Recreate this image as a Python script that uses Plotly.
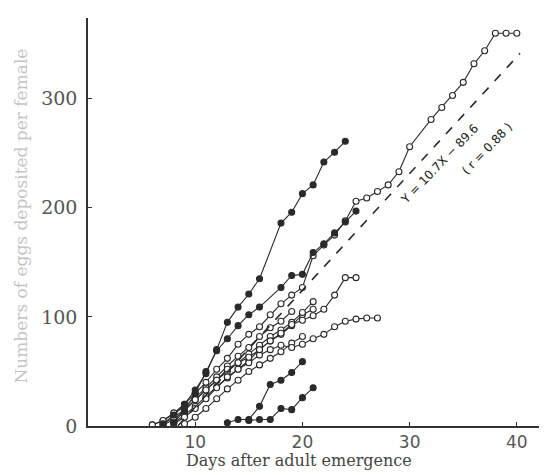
import plotly.graph_objects as go

# ---- data ----
f1_days = [7, 8, 9, 10, 11, 12, 13, 14, 15, 16, 18, 19, 20, 21, 22, 23, 24]
f1_eggs = [2, 10, 20, 33, 48, 70, 95, 109, 121, 135, 186, 196, 213, 221, 242, 251, 261]

f2_days = [8, 9, 10, 11, 12, 13, 14, 15, 16, 18, 19, 20, 21, 22, 23, 24, 25]
f2_eggs = [3, 14, 30, 50, 69, 80, 92, 102, 109, 127, 138, 139, 159, 167, 177, 187, 197]

f3_days = [13, 14, 15, 16, 17, 18, 19, 20]
f3_eggs = [3, 6, 6, 18, 38, 42, 49, 59]

f4_days = [15, 16, 17, 18, 19, 20, 21]
f4_eggs = [5, 6, 6, 16, 15, 26, 35]

o1_days = [6, 7, 8, 9, 10, 11, 12, 13, 14, 15, 16, 17, 18, 19, 20, 21, 22, 23, 24, 25,
           26, 27, 28, 29, 30, 32, 33, 34, 35, 36, 37, 38, 39, 40]
o1_eggs = [1, 5, 12, 20, 30, 40, 52, 62, 75, 84, 91, 102, 112, 120, 127, 156, 166, 175, 188, 206,
           209, 215, 221, 233, 256, 281, 292, 303, 315, 332, 344, 360, 360, 360]

o2_days = [7, 8, 9, 10, 11, 12, 13, 14, 15, 16, 17, 18, 19, 20, 21, 22, 23, 24, 25]
o2_eggs = [2, 8, 15, 24, 33, 42, 52, 58, 63, 70, 78, 85, 93, 97, 101, 107, 120, 136, 136]

o3_days = [8, 9, 10, 11, 12, 13, 14, 15, 16, 17, 18, 19, 20, 21, 22, 23, 24, 25, 26, 27]
o3_eggs = [2, 8, 16, 25, 35, 45, 52, 58, 65, 70, 74, 72, 75, 80, 84, 91, 96, 98, 99, 99]

o4_days = [7, 8, 9, 10, 11, 12, 13, 14, 15, 16, 17, 18, 19, 20, 21]
o4_eggs = [1, 6, 14, 24, 33, 42, 50, 58, 66, 74, 82, 88, 95, 104, 114]

o5_days = [8, 9, 10, 11, 12, 13, 14, 15, 16, 17, 18, 19, 20, 21]
o5_eggs = [3, 10, 18, 27, 36, 44, 52, 60, 70, 78, 84, 92, 102, 107]

o6_days = [9, 10, 11, 12, 13, 14, 15, 16, 17, 18, 19, 20]
o6_eggs = [2, 8, 16, 25, 34, 42, 50, 56, 62, 68, 76, 82]

o7_days = [6, 7, 8, 9, 10, 11, 12, 13, 14, 15, 16, 17, 18, 19]
o7_eggs = [1, 5, 11, 18, 26, 35, 45, 55, 64, 72, 82, 90, 96, 105]

reg_x = [8.4, 40.3]
reg_slope = 10.7
reg_intercept = -89.6

x_ticks = [10, 20, 30, 40]
y_ticks = [0, 100, 200, 300]

INK = "#2a2a2a"

fig = go.Figure()

def add_series(days, eggs, filled):
    fig.add_trace(go.Scatter(
        x=days, y=eggs, mode="lines+markers",
        line=dict(color=INK, width=1.1),
        marker=dict(symbol="circle", size=6,
                    color=INK if filled else "white",
                    line=dict(color=INK, width=1.1)),
        showlegend=False, hoverinfo="skip"))

# open series first so filled ones sit on top
for d, e in [(o7_days, o7_eggs), (o6_days, o6_eggs), (o5_days, o5_eggs),
             (o4_days, o4_eggs), (o3_days, o3_eggs), (o2_days, o2_eggs),
             (o1_days, o1_eggs)]:
    add_series(d, e, False)

# regression line
fig.add_trace(go.Scatter(
    x=reg_x, y=[reg_slope * v + reg_intercept for v in reg_x],
    mode="lines", line=dict(color=INK, width=1.6, dash="dash"),
    showlegend=False, hoverinfo="skip"))

for d, e in [(f4_days, f4_eggs), (f3_days, f3_eggs), (f2_days, f2_eggs), (f1_days, f1_eggs)]:
    add_series(d, e, True)

# regression annotation (rotated along the line)
fig.add_annotation(x=32.8, y=240, xref="x", yref="y", text="Y = 10.7X \u2212 89.6",
                   textangle=-46, showarrow=False,
                   font=dict(family="DejaVu Sans", size=12, color="#222222"))
fig.add_annotation(x=37.2, y=254, xref="x", yref="y", text="( r = 0.88 )",
                   textangle=-46, showarrow=False,
                   font=dict(family="DejaVu Sans", size=12, color="#222222"))

# axis titles as annotations
fig.add_annotation(x=0.458, y=-0.112, xref="paper", yref="paper",
                   text="Days after adult emergence", showarrow=False,
                   font=dict(family="DejaVu Serif", size=16, color="#444444"))
fig.add_annotation(x=-0.172, y=0.515, xref="paper", yref="paper",
                   text="Numbers of eggs deposited per female", textangle=-90,
                   showarrow=False,
                   font=dict(family="DejaVu Serif", size=17, color="#c4c4c4"))

fig.update_xaxes(range=[0, 43], tickvals=x_ticks, ticktext=[str(v) for v in x_ticks],
                 showgrid=False, zeroline=False, showline=True, linecolor="#333",
                 linewidth=2, ticks="inside", ticklen=4, tickcolor="#333",
                 tickfont=dict(family="DejaVu Sans", size=17, color="#555555"))
fig.update_yaxes(range=[0, 374], tickvals=y_ticks, ticktext=[str(v) for v in y_ticks],
                 showgrid=False, zeroline=False, showline=True, linecolor="#333",
                 linewidth=1.6, ticks="inside", ticklen=4, tickcolor="#333",
                 mirror="ticks", ticklabelstandoff=5,
                 tickfont=dict(family="DejaVu Serif", size=19, color="#555555"))

fig.update_layout(width=547, height=475,
                  margin=dict(l=80, r=4, t=10, b=57),
                  paper_bgcolor="white", plot_bgcolor="white")

fig.write_html("out.html")
